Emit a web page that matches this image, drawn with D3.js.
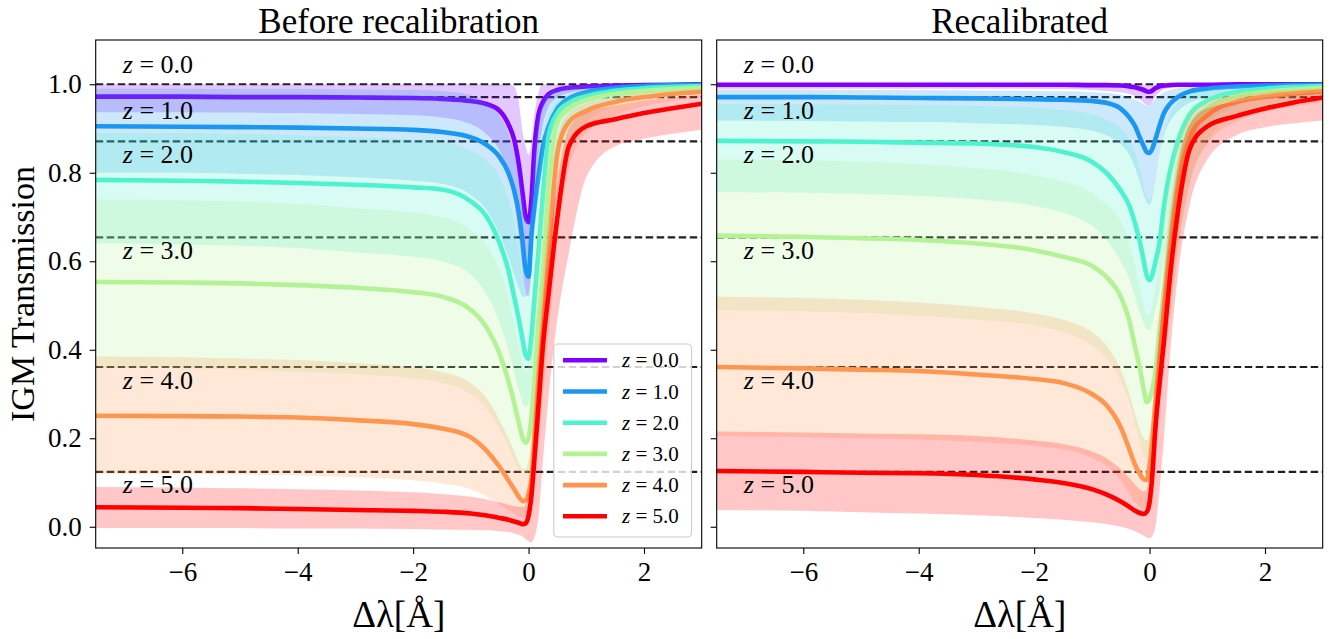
<!DOCTYPE html>
<html>
<head>
<meta charset="utf-8">
<script src="https://cdn.jsdelivr.net/npm/d3@7/dist/d3.min.js"></script>
<style>
  html, body { margin: 0; padding: 0; background: #fff; }
  svg text { font-family: "Liberation Serif", "Times New Roman", serif; }
</style>
</head>
<body>
<svg id="chart" width="1336" height="639"></svg>
<script>
// ---------------- DATA ----------------
const deltaLambda = [-7.5, -6, -5, -4, -3, -2, -1.5, -1, -0.75, -0.5, -0.35, -0.25, -0.17, -0.1, -0.05, 0, 0.05, 0.1, 0.17, 0.25, 0.35, 0.5, 0.7, 1, 1.5, 2, 2.5, 3];
const redshifts = ["0.0", "1.0", "2.0", "3.0", "4.0", "5.0"];
const seriesColors = ["#8000ff", "#1a96f3", "#4df3ce", "#b3f396", "#ff964f", "#ff0000"];
const referenceLevels = [1.0, 0.971, 0.871, 0.654, 0.361, 0.124];
const panelTitles = ["Before recalibration", "Recalibrated"];
const xTicks = [-6, -4, -2, 0, 2];
const yTicks = [0.0, 0.2, 0.4, 0.6, 0.8, 1.0];

const beforeMean = [
  [0.972,0.972,0.971,0.971,0.970,0.969,0.967,0.962,0.956,0.940,0.910,0.875,0.820,0.750,0.700,0.688,0.740,0.850,0.930,0.960,0.978,0.987,0.992,0.995,0.997,0.998,0.999,1.000],
  [0.905,0.904,0.903,0.902,0.900,0.897,0.892,0.880,0.865,0.835,0.800,0.760,0.710,0.640,0.580,0.565,0.660,0.720,0.790,0.860,0.905,0.945,0.968,0.982,0.992,0.996,0.998,0.999],
  [0.784,0.782,0.780,0.777,0.773,0.767,0.762,0.735,0.705,0.640,0.580,0.520,0.470,0.420,0.388,0.380,0.430,0.510,0.620,0.750,0.885,0.935,0.958,0.973,0.985,0.991,0.994,0.996],
  [0.553,0.552,0.550,0.546,0.540,0.530,0.520,0.490,0.455,0.390,0.330,0.280,0.235,0.200,0.190,0.200,0.250,0.330,0.460,0.580,0.770,0.915,0.945,0.964,0.978,0.985,0.989,0.992],
  [0.251,0.250,0.249,0.247,0.241,0.232,0.222,0.202,0.175,0.135,0.105,0.085,0.068,0.058,0.060,0.075,0.110,0.200,0.330,0.460,0.620,0.845,0.915,0.940,0.960,0.971,0.978,0.983],
  [0.044,0.043,0.042,0.040,0.038,0.036,0.034,0.030,0.026,0.020,0.016,0.012,0.009,0.006,0.008,0.025,0.070,0.150,0.270,0.410,0.530,0.700,0.860,0.905,0.921,0.935,0.946,0.956]
];
const beforeLow = [
  [0.937,0.937,0.936,0.935,0.933,0.930,0.925,0.910,0.890,0.850,0.800,0.740,0.660,0.580,0.530,0.520,0.580,0.720,0.840,0.910,0.950,0.970,0.980,0.988,0.993,0.996,0.998,0.999],
  [0.800,0.800,0.798,0.795,0.790,0.782,0.775,0.750,0.720,0.660,0.610,0.570,0.540,0.520,0.520,0.530,0.580,0.660,0.750,0.820,0.870,0.910,0.940,0.960,0.975,0.985,0.990,0.993],
  [0.640,0.638,0.635,0.630,0.620,0.610,0.600,0.570,0.530,0.460,0.400,0.350,0.310,0.280,0.270,0.280,0.320,0.400,0.520,0.640,0.760,0.850,0.900,0.940,0.965,0.975,0.982,0.987],
  [0.360,0.358,0.355,0.350,0.345,0.335,0.325,0.300,0.270,0.220,0.180,0.150,0.130,0.120,0.115,0.125,0.160,0.220,0.330,0.450,0.600,0.760,0.860,0.915,0.950,0.965,0.975,0.982],
  [0.120,0.119,0.118,0.116,0.112,0.105,0.098,0.085,0.070,0.050,0.038,0.030,0.024,0.020,0.022,0.030,0.050,0.100,0.190,0.300,0.440,0.640,0.810,0.890,0.930,0.950,0.962,0.972],
  [-0.003,-0.003,-0.003,-0.004,-0.004,-0.005,-0.006,-0.007,-0.008,-0.010,-0.012,-0.015,-0.018,-0.022,-0.028,-0.033,-0.035,-0.025,0.020,0.150,0.300,0.470,0.620,0.790,0.860,0.877,0.888,0.897]
];
const beforeHigh = [
  [1.000,1.000,1.000,1.000,1.000,1.000,1.000,1.000,1.000,1.000,1.000,0.995,0.960,0.890,0.860,0.840,0.870,0.930,0.980,1.000,1.000,1.000,1.000,1.000,1.000,1.000,1.000,1.000],
  [0.990,0.990,0.989,0.989,0.988,0.987,0.985,0.975,0.960,0.930,0.890,0.850,0.800,0.740,0.700,0.690,0.750,0.840,0.920,0.960,0.980,0.990,0.995,0.998,0.999,1.000,1.000,1.000],
  [0.890,0.890,0.888,0.885,0.880,0.875,0.870,0.850,0.830,0.790,0.740,0.690,0.630,0.570,0.530,0.530,0.580,0.670,0.780,0.870,0.930,0.960,0.975,0.985,0.992,0.995,0.997,0.998],
  [0.740,0.738,0.735,0.730,0.720,0.710,0.700,0.670,0.640,0.580,0.520,0.460,0.410,0.370,0.350,0.370,0.430,0.520,0.650,0.770,0.870,0.940,0.962,0.976,0.986,0.990,0.993,0.995],
  [0.385,0.383,0.380,0.377,0.370,0.360,0.350,0.325,0.295,0.240,0.200,0.170,0.145,0.130,0.130,0.150,0.200,0.290,0.430,0.570,0.720,0.880,0.935,0.957,0.972,0.980,0.985,0.990],
  [0.090,0.089,0.087,0.085,0.082,0.078,0.074,0.068,0.063,0.055,0.050,0.047,0.045,0.045,0.050,0.080,0.140,0.240,0.370,0.500,0.630,0.780,0.900,0.935,0.952,0.963,0.970,0.977]
];

const recalMean = [
  [0.999,0.999,0.999,0.999,0.999,0.999,0.999,0.998,0.998,0.997,0.995,0.993,0.990,0.987,0.984,0.983,0.986,0.991,0.995,0.997,0.998,0.999,0.999,0.999,1.000,1.000,1.000,1.000],
  [0.971,0.971,0.970,0.969,0.968,0.966,0.965,0.962,0.958,0.945,0.925,0.905,0.880,0.860,0.847,0.845,0.855,0.875,0.905,0.935,0.955,0.972,0.984,0.990,0.995,0.997,0.998,0.999],
  [0.872,0.871,0.870,0.868,0.866,0.858,0.847,0.825,0.800,0.760,0.725,0.685,0.645,0.600,0.568,0.557,0.570,0.598,0.640,0.725,0.800,0.875,0.932,0.963,0.982,0.990,0.994,0.996],
  [0.658,0.655,0.652,0.648,0.640,0.625,0.610,0.590,0.565,0.520,0.465,0.405,0.360,0.310,0.282,0.290,0.310,0.350,0.440,0.530,0.650,0.800,0.900,0.945,0.972,0.982,0.988,0.992],
  [0.361,0.358,0.355,0.352,0.344,0.334,0.325,0.300,0.275,0.225,0.175,0.140,0.120,0.107,0.106,0.140,0.200,0.280,0.380,0.490,0.610,0.770,0.880,0.930,0.960,0.972,0.979,0.984],
  [0.126,0.124,0.122,0.121,0.117,0.107,0.099,0.085,0.073,0.057,0.045,0.036,0.031,0.029,0.033,0.055,0.120,0.220,0.320,0.420,0.560,0.720,0.855,0.905,0.928,0.945,0.959,0.970]
];
const recalLow = [
  [0.990,0.990,0.990,0.990,0.990,0.990,0.989,0.987,0.985,0.982,0.978,0.973,0.966,0.958,0.953,0.952,0.960,0.972,0.982,0.988,0.992,0.995,0.997,0.998,0.998,0.999,0.999,0.999],
  [0.918,0.917,0.916,0.915,0.912,0.908,0.904,0.895,0.885,0.865,0.840,0.810,0.780,0.750,0.733,0.728,0.745,0.785,0.840,0.885,0.915,0.940,0.958,0.972,0.983,0.988,0.991,0.993],
  [0.756,0.755,0.752,0.748,0.740,0.725,0.710,0.680,0.650,0.600,0.560,0.520,0.485,0.460,0.447,0.445,0.460,0.490,0.530,0.600,0.680,0.770,0.850,0.910,0.950,0.965,0.975,0.980],
  [0.490,0.487,0.483,0.477,0.468,0.455,0.440,0.410,0.380,0.330,0.280,0.230,0.190,0.160,0.150,0.150,0.170,0.210,0.270,0.350,0.460,0.620,0.770,0.870,0.930,0.955,0.967,0.975],
  [0.205,0.203,0.200,0.197,0.192,0.183,0.175,0.156,0.138,0.105,0.075,0.055,0.045,0.040,0.042,0.060,0.110,0.190,0.280,0.370,0.480,0.640,0.780,0.865,0.915,0.937,0.950,0.960],
  [0.038,0.036,0.033,0.030,0.026,0.020,0.016,0.010,0.006,0.000,-0.005,-0.010,-0.015,-0.020,-0.024,-0.026,-0.020,0.000,0.080,0.200,0.380,0.580,0.730,0.830,0.885,0.903,0.912,0.918]
];
const recalHigh = [
  [1.000,1.000,1.000,1.000,1.000,1.000,1.000,1.000,1.000,1.000,1.000,1.000,1.000,0.999,0.999,0.999,0.999,0.999,1.000,1.000,1.000,1.000,1.000,1.000,1.000,1.000,1.000,1.000],
  [0.988,0.988,0.987,0.987,0.986,0.985,0.984,0.982,0.980,0.976,0.970,0.965,0.960,0.955,0.952,0.952,0.958,0.966,0.975,0.982,0.987,0.991,0.994,0.996,0.998,0.999,0.999,0.999],
  [0.955,0.955,0.954,0.953,0.951,0.947,0.942,0.932,0.920,0.900,0.875,0.845,0.810,0.770,0.745,0.740,0.755,0.790,0.840,0.890,0.930,0.960,0.977,0.987,0.993,0.996,0.997,0.998],
  [0.830,0.828,0.825,0.820,0.810,0.795,0.780,0.755,0.730,0.690,0.640,0.590,0.540,0.500,0.480,0.480,0.500,0.540,0.610,0.700,0.800,0.890,0.945,0.970,0.985,0.990,0.993,0.995],
  [0.520,0.517,0.513,0.507,0.497,0.482,0.468,0.440,0.410,0.355,0.300,0.255,0.220,0.200,0.195,0.210,0.260,0.350,0.470,0.590,0.720,0.850,0.925,0.957,0.975,0.983,0.988,0.991],
  [0.215,0.213,0.211,0.209,0.205,0.195,0.187,0.170,0.155,0.130,0.110,0.095,0.085,0.080,0.085,0.120,0.200,0.310,0.430,0.550,0.680,0.820,0.910,0.945,0.960,0.970,0.977,0.982]
];

// ---------------- LAYOUT ----------------
const svg = d3.select("#chart");
const plotTop = 40, plotBottom = 548;
const panels = [
  { x0: 95.7, x1: 701.7, mean: beforeMean, lo: beforeLow, hi: beforeHigh, title: panelTitles[0], yLabels: true, legend: true },
  { x0: 716.7, x1: 1322.7, mean: recalMean, lo: recalLow, hi: recalHigh, title: panelTitles[1], yLabels: false, legend: false }
];
const y = d3.scaleLinear().domain([-0.048, 1.1]).range([plotBottom, plotTop]);
const fillAlpha = 0.22;
const serif = "Liberation Serif";

panels.forEach((p, pi) => {
  const x = d3.scaleLinear().domain([-7.5, 3]).range([p.x0, p.x1]);
  const g = svg.append("g");
  const clipId = "clip" + pi;
  svg.append("clipPath").attr("id", clipId).append("rect")
    .attr("x", p.x0).attr("y", plotTop).attr("width", p.x1 - p.x0).attr("height", plotBottom - plotTop);
  const plot = g.append("g").attr("clip-path", `url(#${clipId})`);

  // dashed reference levels
  referenceLevels.forEach(v => {
    plot.append("line")
      .attr("x1", p.x0).attr("x2", p.x1).attr("y1", y(v)).attr("y2", y(v))
      .attr("stroke", "#000").attr("stroke-opacity", 0.88)
      .attr("stroke-width", 2.2).attr("stroke-dasharray", "7.5,3.5");
  });

  const area = d3.area().x((d, i) => x(deltaLambda[i])).y0(d => y(d[0])).y1(d => y(d[1])).curve(d3.curveMonotoneX);
  const line = d3.line().x((d, i) => x(deltaLambda[i])).y(d => y(d)).curve(d3.curveMonotoneX);

  redshifts.forEach((z, k) => {
    const band = deltaLambda.map((_, i) => [p.lo[k][i], p.hi[k][i]]);
    plot.append("path").attr("d", area(band))
      .attr("fill", seriesColors[k]).attr("fill-opacity", fillAlpha).attr("stroke", "none");
    plot.append("path").attr("d", line(p.mean[k]))
      .attr("fill", "none").attr("stroke", seriesColors[k]).attr("stroke-width", 4.6)
      .attr("stroke-linejoin", "round").attr("stroke-linecap", "butt");
  });

  // z labels
  referenceLevels.forEach((v, k) => {
    const ty = k === 0 ? y(v) - 11 : y(v) + 21.6;
    const t = g.append("text").attr("x", x(-7.03)).attr("y", ty).attr("font-size", 26)
      .attr("font-family", serif).attr("fill", "#000");
    t.append("tspan").attr("font-style", "italic").text("z");
    t.append("tspan").text(" = " + redshifts[k]);
  });

  // axes
  const xAxis = d3.axisBottom(x).tickValues(xTicks).tickFormat(d3.format("d")).tickSize(6).tickSizeOuter(0).tickPadding(8);
  const gx = g.append("g").attr("transform", `translate(0,${plotBottom})`).call(xAxis)
    .attr("font-family", serif).attr("font-size", 27);
  gx.select(".domain").remove();
  gx.selectAll("text").attr("font-size", 27).attr("font-family", serif).attr("fill", "#000");
  gx.selectAll("line").attr("stroke", "#000").attr("stroke-width", 1.1);

  const yAxis = d3.axisLeft(y).tickValues(yTicks).tickFormat(p.yLabels ? d3.format(".1f") : () => "").tickSize(6).tickSizeOuter(0).tickPadding(8);
  const gy = g.append("g").attr("transform", `translate(${p.x0},0)`).call(yAxis)
    .attr("font-family", serif).attr("font-size", 27);
  gy.select(".domain").remove();
  gy.selectAll("text").attr("font-size", 27).attr("font-family", serif).attr("fill", "#000");
  gy.selectAll("line").attr("stroke", "#000").attr("stroke-width", 1.1);

  // frame
  g.append("rect").attr("x", p.x0).attr("y", plotTop).attr("width", p.x1 - p.x0).attr("height", plotBottom - plotTop)
    .attr("fill", "none").attr("stroke", "#000").attr("stroke-width", 1.1);

  // title
  g.append("text").attr("x", (p.x0 + p.x1) / 2).attr("y", 33).attr("text-anchor", "middle")
    .attr("font-family", serif).attr("font-size", 35).text(p.title);
  // x label
  g.append("text").attr("x", (p.x0 + p.x1) / 2).attr("y", 627).attr("text-anchor", "middle")
    .attr("font-family", serif).attr("font-size", 37).text("Δλ[Å]");

  if (p.legend) {
    const lg = g.append("g");
    const lx = 553.8, ly = 344, lw = 137.7, lh = 193;
    lg.append("rect").attr("x", lx).attr("y", ly).attr("width", lw).attr("height", lh).attr("rx", 4)
      .attr("fill", "#fff").attr("fill-opacity", 0.8).attr("stroke", "#cccccc").attr("stroke-width", 1.1);
    redshifts.forEach((z, k) => {
      const cy = 360.3 + k * 31.2;
      lg.append("line").attr("x1", 563).attr("x2", 607).attr("y1", cy).attr("y2", cy)
        .attr("stroke", seriesColors[k]).attr("stroke-width", 4.6);
      const t = lg.append("text").attr("x", 622).attr("y", cy + 7).attr("font-size", 21)
        .attr("font-family", serif).attr("fill", "#000");
      t.append("tspan").attr("font-style", "italic").text("z");
      t.append("tspan").text(" = " + z);
    });
  }
});

// y label
svg.append("text").attr("transform", `translate(34,${(plotTop + plotBottom) / 2}) rotate(-90)`)
  .attr("text-anchor", "middle").attr("font-family", serif).attr("font-size", 34).text("IGM Transmission");
</script>
</body>
</html>
